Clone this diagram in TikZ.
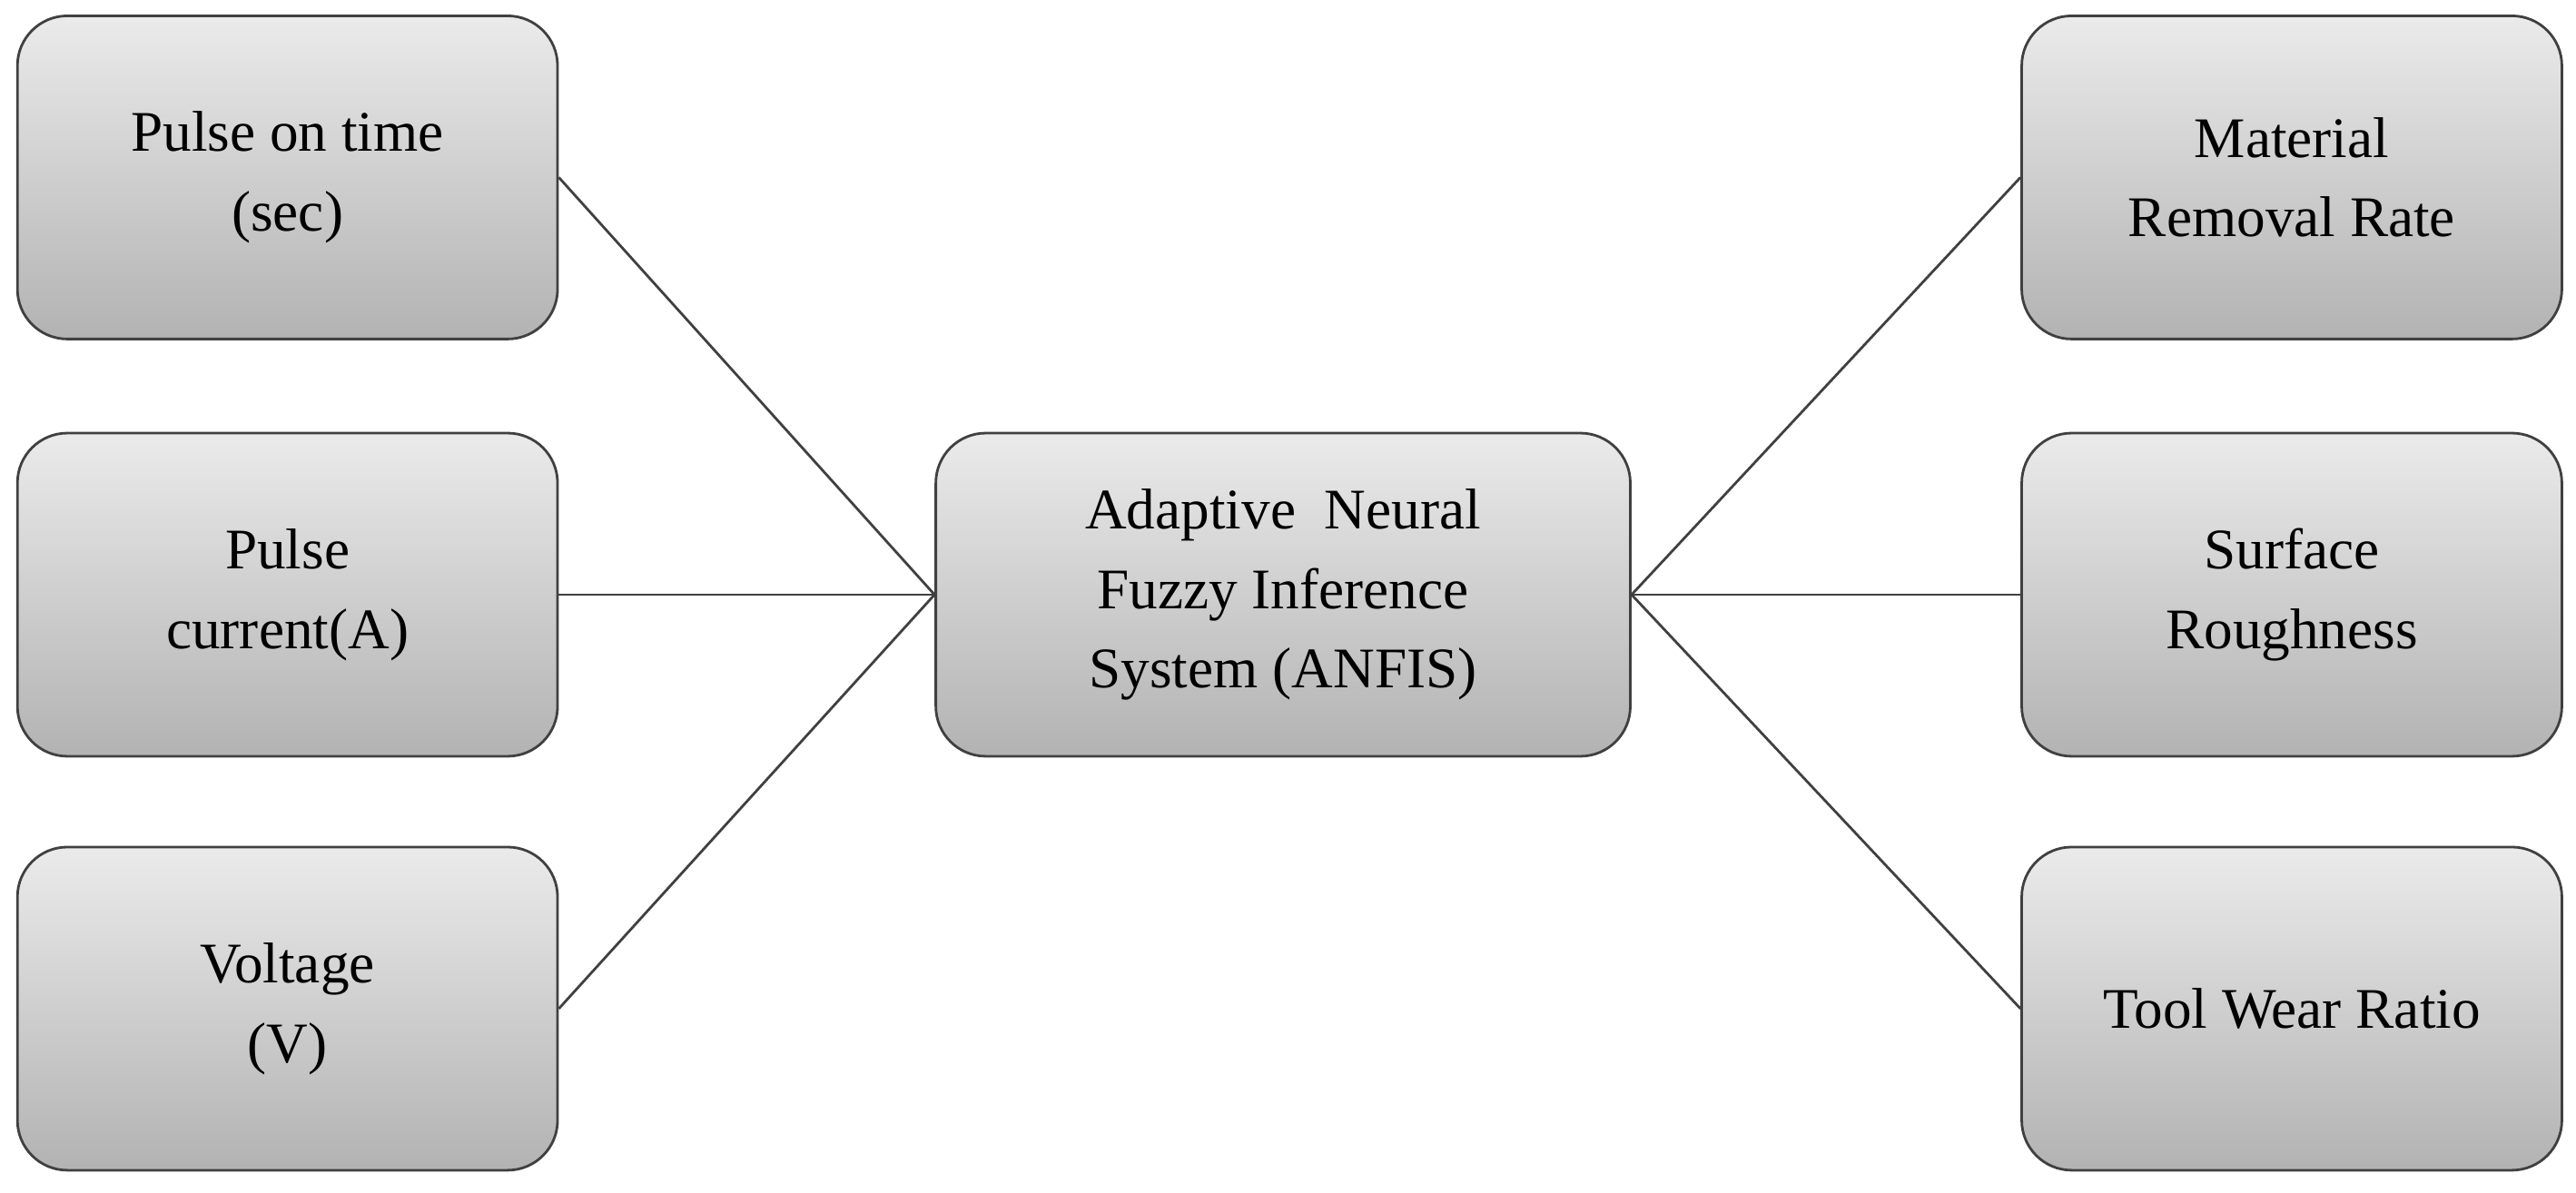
\documentclass[tikz,border=0pt]{standalone}
\usepackage{fontspec}
\setmainfont{Liberation Serif}
\usetikzlibrary{positioning}

\begin{document}
\begin{tikzpicture}[x=0.018093cm,y=-0.018093cm,
	box/.style={draw=black!75,thick,rounded corners=0.55cm,
		top color=white!92!black,bottom color=black!30,
		minimum width=5.95cm,minimum height=3.56cm,
		align=center,font=\fontsize{18}{25}\selectfont},
	wire/.style={draw=black!75,thick}]

	\useasboundingbox (0,0) rectangle (1568,726);

	% inputs
	\node[box] (PON) at (175,108) {Pulse on time\\(sec)};
	\node[box] (PC)  at (175,362) {Pulse\\current(A)};
	\node[box] (V)   at (175,614) {Voltage\\(V)};

	% model
	\node[box,minimum width=7.65cm] (ANFIS) at (781,362)
		{Adaptive\ \ Neural\\Fuzzy Inference\\System (ANFIS)};

	% outputs
	\node[box] (MRR) at (1395,108) {Material\\Removal Rate};
	\node[box] (SR)  at (1395,362) {Surface\\Roughness};
	\node[box] (TWR) at (1395,614) {Tool Wear Ratio};

	\draw[wire] (PON.east) -- (ANFIS.west);
	\draw[wire] (PC.east)  -- (ANFIS.west);
	\draw[wire] (V.east)   -- (ANFIS.west);
	\draw[wire] (ANFIS.east) -- (MRR.west);
	\draw[wire] (ANFIS.east) -- (SR.west);
	\draw[wire] (ANFIS.east) -- (TWR.west);

\end{tikzpicture}
\end{document}
